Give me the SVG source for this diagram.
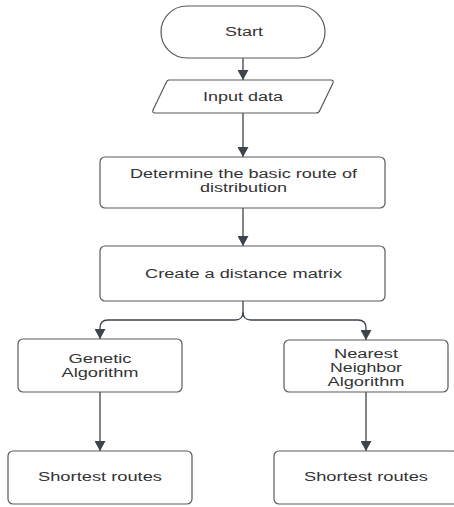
<svg xmlns="http://www.w3.org/2000/svg" width="454" height="507" viewBox="0 0 454 507">
<defs>
<style>
.n{fill:#fff;stroke:#5a5a5a;stroke-width:1.2}
.t{font-family:"Liberation Sans",Arial,sans-serif;font-size:12px;fill:#333;text-anchor:middle}
.c{fill:none;stroke:#3d434c;stroke-width:1.3}
</style>
<marker id="ah" markerUnits="userSpaceOnUse" markerWidth="11" markerHeight="11" refX="10" refY="5.5" orient="auto" viewBox="0 0 11 11">
<path d="M0,0 L10,5.5 L0,11 z" fill="#3d434c"/>
</marker>
</defs>
<rect width="454" height="507" fill="#fff"/>
<g id="connectors">
<path class="c" d="M243,58 V80" marker-end="url(#ah)"/>
<path class="c" d="M243,113 V157" marker-end="url(#ah)"/>
<path class="c" d="M243,208 V246" marker-end="url(#ah)"/>
<path class="c" d="M243,301 V312 Q243,320 235,320 H108 Q100,320 100,328 V339" marker-end="url(#ah)"/>
<path class="c" d="M243,312 Q243,320 251,320 H358 Q366,320 366,328 V340" marker-end="url(#ah)"/>
<path class="c" d="M100,392 V451" marker-end="url(#ah)"/>
<path class="c" d="M366,392 V451" marker-end="url(#ah)"/>
</g>
<g id="start">
<rect class="n" x="161" y="6" width="164" height="52" rx="26"/>
<text class="t" x="244" y="36" textLength="38" lengthAdjust="spacingAndGlyphs">Start</text>
</g>
<g id="input">
<path class="n" d="M169,80 H331 Q334,80 333,83 L320,110 Q319,113 316,113 H155 Q152,113 153,110 L166,83 Q167,80 169,80 Z"/>
<text class="t" x="243" y="101" textLength="80" lengthAdjust="spacingAndGlyphs">Input data</text>
</g>
<g id="determine">
<rect class="n" x="100" y="157" width="285" height="51" rx="5"/>
<text class="t" x="243.5" y="178" textLength="227" lengthAdjust="spacingAndGlyphs">Determine the basic route of</text>
<text class="t" x="243.5" y="192" textLength="87" lengthAdjust="spacingAndGlyphs">distribution</text>
</g>
<g id="matrix">
<rect class="n" x="100" y="246" width="285" height="55" rx="5"/>
<text class="t" x="243.5" y="278" textLength="197" lengthAdjust="spacingAndGlyphs">Create a distance matrix</text>
</g>
<g id="genetic">
<rect class="n" x="18" y="339" width="164" height="53" rx="5"/>
<text class="t" x="100" y="363" textLength="63" lengthAdjust="spacingAndGlyphs">Genetic</text>
<text class="t" x="100" y="377" textLength="77" lengthAdjust="spacingAndGlyphs">Algorithm</text>
</g>
<g id="nearest">
<rect class="n" x="284" y="340" width="164" height="52" rx="5"/>
<text class="t" x="366" y="358" textLength="64" lengthAdjust="spacingAndGlyphs">Nearest</text>
<text class="t" x="366" y="372" textLength="72" lengthAdjust="spacingAndGlyphs">Neighbor</text>
<text class="t" x="366" y="386" textLength="77" lengthAdjust="spacingAndGlyphs">Algorithm</text>
</g>
<g id="shortest-left">
<rect class="n" x="8" y="451" width="184" height="53" rx="5"/>
<text class="t" x="100" y="481" textLength="124" lengthAdjust="spacingAndGlyphs">Shortest routes</text>
</g>
<g id="shortest-right">
<rect class="n" x="274" y="451" width="184" height="53" rx="5"/>
<text class="t" x="366" y="481" textLength="124" lengthAdjust="spacingAndGlyphs">Shortest routes</text>
</g>
</svg>
